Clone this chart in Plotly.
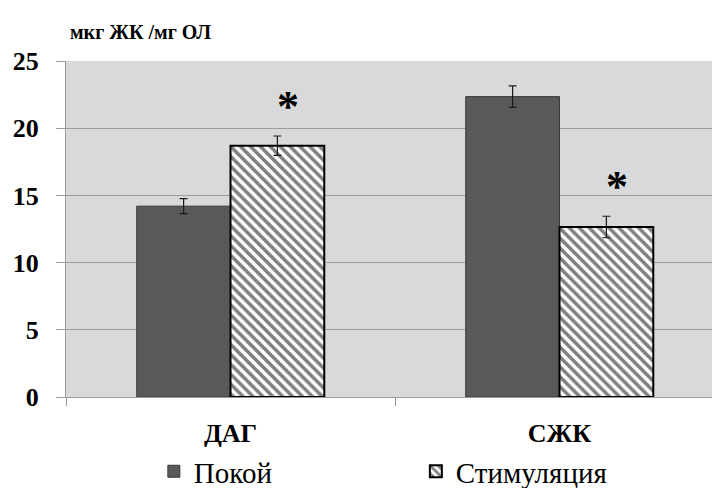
import plotly.graph_objects as go

# Data
categories = ["ДАГ", "СЖК"]
rest_values = [14.2, 22.35]
rest_errors = [0.56, 0.8]
stim_values = [18.7, 12.65]
stim_errors = [0.72, 0.8]
significant = [True, True]
series_names = ["Покой", "Стимуляция"]
y_ticks = [0, 5, 10, 15, 20, 25]
unit_label = "мкг ЖК /мг ОЛ"

SERIF = "Liberation Serif"
GRID = "#9c9c9c"

fig = go.Figure()

fig.add_trace(go.Bar(
    name=series_names[0],
    x=categories,
    y=rest_values,
    marker=dict(color="#595959", line=dict(color="#3a3a3a", width=1)),
    error_y=dict(type="data", array=rest_errors, color="#1a1a1a", thickness=1.2, width=4),
))

fig.add_trace(go.Bar(
    name=series_names[1],
    x=categories,
    y=stim_values,
    marker=dict(
        color="white",
        line=dict(color="black", width=2),
        pattern=dict(shape="\\", fgcolor="black", bgcolor="white", size=7, solidity=0.5),
    ),
    error_y=dict(type="data", array=stim_errors, color="#1a1a1a", thickness=1.2, width=4),
))

# Significance marks above the stimulated bars
for cat, v, e, sig in zip(categories, stim_values, stim_errors, significant):
    if sig:
        fig.add_annotation(
            x=cat, y=v + e, xref="x", yref="y",
            text="<b>*</b>", showarrow=False,
            xanchor="center", yanchor="bottom",
            xshift=57, yshift=3,
            font=dict(family=SERIF, size=44, color="black"),
        )

# Unit label above the value axis
fig.add_annotation(
    x=0.003, y=1.086, xref="paper", yref="paper", text=f"<b>{unit_label}</b>",
    showarrow=False, xanchor="left", yanchor="middle",
    font=dict(family=SERIF, size=20, color="black"),
)

fig.update_layout(
    width=712, height=488,
    margin=dict(l=66, r=0, t=61, b=91),
    paper_bgcolor="white",
    plot_bgcolor="#d9d9d9",
    barmode="group",
    bargap=0.43,
    bargroupgap=0,
    showlegend=True,
    legend=dict(
        orientation="h",
        xref="paper", yref="container",
        x=0.136, y=0.034, xanchor="left", yanchor="middle",
        font=dict(family=SERIF, size=29, color="black"),
        entrywidth=217,
        itemwidth=30,
        bgcolor="rgba(0,0,0,0)",
    ),
    font=dict(family=SERIF, color="black"),
)

fig.update_xaxes(
    type="category",
    range=[-0.5, 1.4635],
    automargin=False,
    showline=True, linecolor=GRID, linewidth=1,
    ticks="outside", tickson="boundaries", ticklen=8, tickcolor=GRID,
    tickfont=dict(family=SERIF, size=26, color="black", weight="bold"),
    ticklabelstandoff=13,
    showgrid=False,
)

fig.update_yaxes(
    range=[0, 25],
    tickvals=y_ticks,
    automargin=False,
    showline=True, linecolor=GRID, linewidth=1,
    ticks="outside", ticklen=9, tickcolor=GRID,
    showgrid=True, gridcolor=GRID, gridwidth=1,
    zeroline=False,
    tickfont=dict(family=SERIF, size=26, color="black", weight="bold"),
    ticklabelstandoff=12,
)

fig.write_html("out.html")
